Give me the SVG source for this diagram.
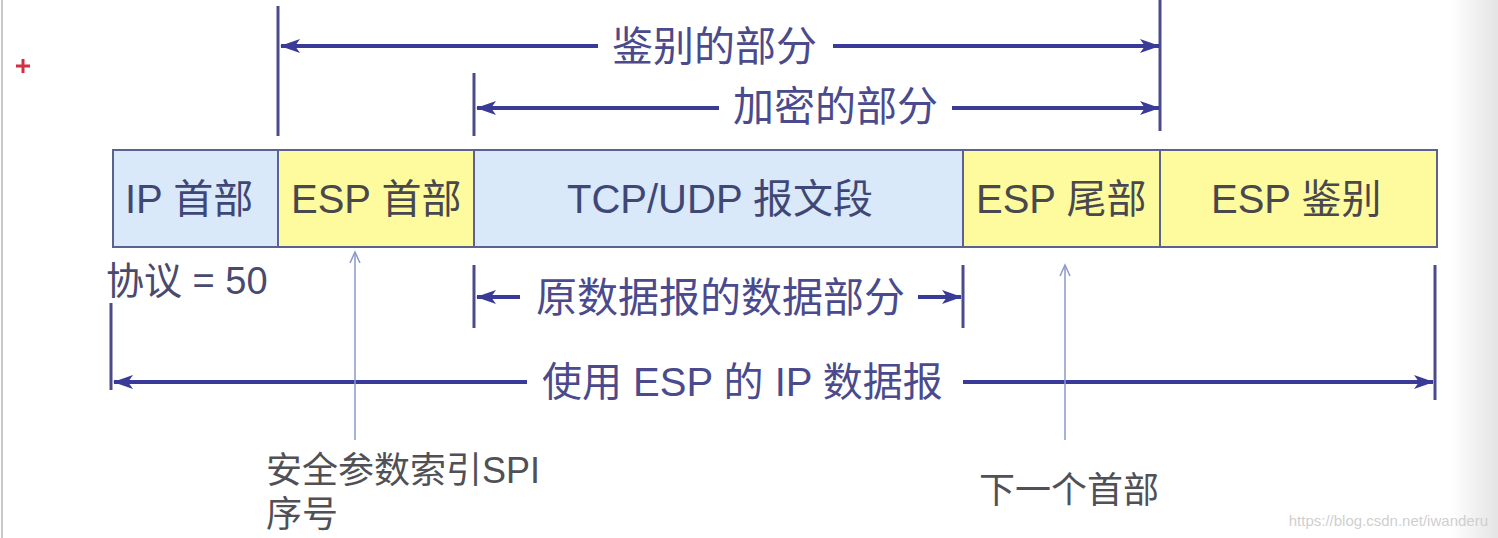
<svg xmlns="http://www.w3.org/2000/svg" width="1498" height="538" viewBox="0 0 1498 538">
<style>
text{font-family:"Liberation Sans","Noto Sans CJK SC",sans-serif}
.box{stroke:#5b6291;stroke-width:2}
.blue{fill:#d9e9f9}
.yel{fill:#fefb9e}
.bl{font-size:40px;fill:#3f4776}
.yl{font-size:40px;fill:#48484e}
.al{font-size:41px;fill:#4a4a8c}
.note{font-size:36px;fill:#505056}
.arr{stroke:#3a3a98;stroke-width:4;fill:none}
.tick{stroke:#4b4b8b;stroke-width:3}
.thin{stroke:#8a98cc;stroke-width:1.5;fill:none}
</style>
<defs>
<marker id="ah" markerWidth="20" markerHeight="14" refX="19" refY="7" orient="auto-start-reverse" markerUnits="userSpaceOnUse">
<path d="M0,0 L20,7 L0,14 L5,7 Z" fill="#3a3a98"/>
</marker>
<marker id="oh" markerWidth="14" markerHeight="12" refX="12" refY="6" orient="auto" markerUnits="userSpaceOnUse">
<path d="M1,1 L12,6 L1,11" fill="none" stroke="#8a98cc" stroke-width="1.5"/>
</marker>
<linearGradient id="edge" x1="0" y1="0" x2="1" y2="0">
<stop offset="0" stop-color="#ffffff"/>
<stop offset="1" stop-color="#e4e4e4"/>
</linearGradient>
</defs>
<rect width="1498" height="538" fill="#ffffff"/>
<rect x="1450" y="0" width="48" height="538" fill="url(#edge)"/>
<line x1="2" y1="0" x2="2" y2="538" stroke="#c8c8c8" stroke-width="2"/>
<path d="M16,66 H30 M23,59 V73" stroke="#d23040" stroke-width="3"/>

<g id="ip-header"><rect class="box blue" x="113" y="150" width="165" height="97"/><text class="bl" x="125" y="213">IP 首部</text></g>
<g id="esp-header"><rect class="box yel" x="278" y="150" width="196" height="97"/><text class="yl" x="291" y="213">ESP 首部</text></g>
<g id="tcp-udp"><rect class="box blue" x="474" y="150" width="489" height="97"/><text class="bl" x="567" y="213">TCP/UDP 报文段</text></g>
<g id="esp-trailer"><rect class="box yel" x="963" y="150" width="197" height="97"/><text class="yl" x="976" y="213">ESP 尾部</text></g>
<g id="esp-auth"><rect class="box yel" x="1160" y="150" width="277" height="97"/><text class="yl" x="1211" y="213">ESP 鉴别</text></g>

<g id="connectors">
<line class="tick" x1="278" y1="6" x2="278" y2="136"/>
<line class="tick" x1="1160" y1="0" x2="1160" y2="131"/>
<line class="tick" x1="474" y1="73" x2="474" y2="136"/>
<line class="arr" x1="598" y1="46" x2="281" y2="46" marker-end="url(#ah)"/>
<line class="arr" x1="833" y1="46" x2="1159" y2="46" marker-end="url(#ah)"/>
<line class="arr" x1="719" y1="108" x2="477" y2="108" marker-end="url(#ah)"/>
<line class="arr" x1="952" y1="108" x2="1159" y2="108" marker-end="url(#ah)"/>

<line class="tick" x1="474" y1="265" x2="474" y2="328"/>
<line class="tick" x1="963" y1="265" x2="963" y2="328"/>
<line class="arr" x1="520" y1="297" x2="477" y2="297" marker-end="url(#ah)"/>
<line class="arr" x1="918" y1="297" x2="961" y2="297" marker-end="url(#ah)"/>

<line class="tick" x1="111" y1="303" x2="111" y2="390"/>
<line class="tick" x1="1435" y1="265" x2="1435" y2="400"/>
<line class="arr" x1="527" y1="382" x2="114" y2="382" marker-end="url(#ah)"/>
<line class="arr" x1="963" y1="382" x2="1433" y2="382" marker-end="url(#ah)"/>

<line class="thin" x1="355" y1="440" x2="355" y2="252" marker-end="url(#oh)"/>
<line class="thin" x1="1065" y1="440" x2="1065" y2="265" marker-end="url(#oh)"/>
</g>

<g id="labels">
<text class="al" x="612" y="61">鉴别的部分</text>
<text class="al" x="733" y="121">加密的部分</text>
<text class="note" x="106" y="294" style="font-size:38px;fill:#4a4a6e">协议 = 50</text>
<text class="al" x="536" y="312">原数据报的数据部分</text>
<text class="al" x="542" y="396" style="font-size:40px">使用 ESP 的 IP 数据报</text>
<text class="note" x="266" y="483">安全参数索引SPI</text>
<text class="note" x="266" y="527">序号</text>
<text class="note" x="979" y="503">下一个首部</text>
<text x="1488" y="526" text-anchor="end" style="font-size:15px;fill:#cfcfcf">https://blog.csdn.net/iwanderu</text>
</g>
</svg>
